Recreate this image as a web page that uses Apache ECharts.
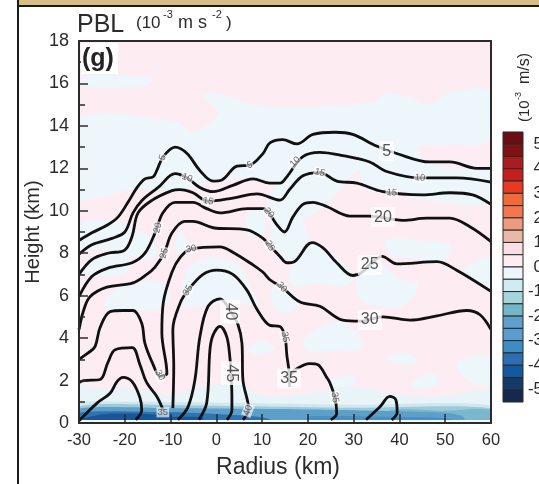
<!DOCTYPE html>
<html><head><meta charset="utf-8">
<style>html,body{margin:0;padding:0;background:#fff;overflow:hidden}#c{width:539px;height:484px;filter:blur(0.45px)}</style>
<script src="https://cdn.jsdelivr.net/npm/echarts@6/dist/echarts.min.js"></script>
</head><body><div id="c"></div>
<script>
// Contours: [radius km, height km]
const c5=[[-30,8.6],[-27.2,8.96],[-23.7,9.34],[-21.5,9.7],[-19.3,10.4],[-17.3,11.1],[-15.6,11.5],[-13.8,11.6],[-13,11.9],[-11.6,12.55],[-9,13],[-6.4,12.7],[-3.6,11.9],[-0.7,11.4],[1.2,11.45],[4.5,12.1],[7.3,12.15],[10.2,12.7],[11.7,13.2],[14.5,13.35],[17.6,13.15],[21.1,13.6],[25.9,13.7],[29.8,13.6],[35,13.05],[39.4,12.7],[46.6,12.3],[51,12.3],[56.9,12],[60,12]];
const c10=[[-30,7.95],[-27.2,8.4],[-22.8,8.7],[-20,9],[-18.2,9.9],[-16.2,10.5],[-12.7,11.1],[-9,11.75],[-6.4,11.55],[-3.6,11.1],[-0.7,10.9],[3.6,11.2],[8,11.5],[11.7,11.3],[13.9,11.3],[15.4,11.6],[18.9,12.55],[22.6,12.75],[27.6,12.6],[33.5,12.3],[37.2,11.85],[44.5,11.55],[52.5,11.55],[60,11.35]];
const c15=[[-30,7],[-27.2,7.7],[-23.7,8],[-20,8.15],[-18.4,8.8],[-17.1,9.9],[-14,10.5],[-9.7,10.95],[-8,11],[-5.1,10.85],[-1.8,10.45],[3.6,10.6],[8.9,10.8],[13.9,10.5],[16,11],[18.9,11.65],[22.6,11.8],[26.3,11.4],[30.7,11.3],[36.4,10.9],[45.1,10.75],[51,10.85],[56,10.75],[60,10.3]];
const c20=[[-30,5.95],[-27.2,6.9],[-23.7,7.3],[-18.4,7.55],[-15.6,8],[-13.4,8.95],[-11.7,9.9],[-9,10.4],[-5.1,10.4],[-2.1,10.1],[0.8,9.9],[6.7,10.1],[10.2,10.1],[11.5,9.9],[13.2,9.35],[14.9,9],[16.7,9.7],[18.9,10.3],[21.1,10.4],[24.1,10.2],[29.2,9.75],[33.5,9.75],[40.7,9.55],[46,9.65],[51,9.65],[55.4,9.25],[60,8.55]];
const c25=[[-30,4.4],[-29,5.3],[-27.6,5.95],[-23.9,6.4],[-18.2,6.6],[-15.2,7],[-13.4,7.35],[-11.4,8],[-9.7,8.95],[-6.9,9.5],[-5.1,9.5],[-0.7,9.2],[6.7,9.1],[10.2,8.7],[11.7,8.35],[13.9,7.85],[15.4,7.55],[17,7.6],[20.9,8.5],[23.3,8.25],[26.3,7.55],[29.8,6.95],[31.8,7.1],[33.5,7.45],[36.2,7.85],[39.4,7.5],[48.2,7.6],[52.5,7.2],[60,6.2]];
const c30=[[-30,3],[-28,3.3],[-26.5,3.6],[-25.4,4.5],[-23.2,5.25],[-20.4,5.3],[-18.2,5.3],[-16.3,4.7],[-15.6,3.75],[-13.8,2.75],[-12.3,2.2],[-10.8,2.35],[-11.9,4.25],[-11.6,5.65],[-9.7,7.1],[-7.9,7.8],[-5.5,8.2],[0.8,8.3],[3.6,8.05],[8,7.45],[10.2,7.1],[11.7,6.75],[14.3,6.4],[18.3,5.7],[22.6,5.5],[27.6,4.85],[31.4,4.8],[36.4,5],[42.3,4.85],[48.2,5.05],[54.7,5.3],[57.6,5.1],[60,4.4]];
const c35a=[[-30,1.9],[-29,2],[-25.4,2.05],[-23.7,2.85],[-22.1,3.45],[-18.4,3.55],[-16.7,2.75],[-15.2,1.9],[-13,1.25],[-11.6,0.6]];
const c35b=[[-9.5,0.7],[-9.3,2.65],[-9.5,4.4],[-7.9,5.65],[-6.2,6.25],[-2.9,7],[0.1,7.2],[3.6,7],[6.7,6.25],[8.9,5.35],[11.7,4.6],[13.9,4.55],[15,4.05],[15.4,3.2],[15.9,2.4],[16,1.7]];
const c35c=[[15.9,2.2],[17.2,2.5],[20.4,2.8],[22.2,2.75],[24.1,2.15],[24.8,1.9],[25.9,1.2],[26.3,0.45],[25,0.15]];
const c35d=[[-30,0.1],[-26,0.95],[-23.2,1.4],[-21.7,1.95],[-20.4,2.15],[-18.4,1.95],[-16.7,1.2],[-16.3,0.6],[-17.6,0.15]];
const c35e=[[32.7,0.15],[35.7,0.75],[37.9,1.25],[39.2,1.1],[39.5,0.5],[38.3,0.15]];
const c40=[[-8.4,0.15],[-6.2,0.75],[-4.7,2],[-3.6,4.05],[-1.8,5.5],[0.8,5.85],[3,5.3],[4.7,4.65],[5.6,3.75],[5.8,2.05],[6.9,0.95],[7,0.6],[5.8,0.15]];
const c45=[[-3.8,0.15],[-2.1,0.95],[-1.4,3.45],[-0.7,4.15],[0.8,4.55],[2.3,4.05],[3,3],[3.2,2.35],[3.4,1.25],[3.4,0.6],[2.3,0.15]];
const contourLines=[c5,c10,c15,c20,c25,c30,c35a,c35b,c35c,c35d,c35e,c40,c45];

// Contour labels: [radius, height, text]
const smallLabels=[[-11.7,12.5,'5'],[7.3,12.15,'5'],[-6.4,11.55,'10'],[17.2,12.3,'10'],[44.5,11.55,'10'],[-1.8,10.45,'15'],[22.6,11.8,'15'],[38.3,10.85,'15'],[-12.8,9.2,'20'],[11.5,9.9,'20'],[-11.4,8,'25'],[11.7,8.35,'25'],[-5.5,8.2,'30'],[14.3,6.4,'30'],[-12.3,2.25,'30'],[-6.2,6.25,'35'],[15,4.05,'35'],[25.9,1.2,'35'],[-11.7,0.5,'35'],[6.9,0.6,'40']];
const smallAngles=[70,20,-20,45,-5,-10,-15,-5,75,-50,75,-60,10,-50,-60,60,-80,-80,0,70];
const bigLabels=[[37.2,12.8,'5'],[36.4,9.7,'20'],[33.5,7.45,'25'],[33.5,4.85,'30'],[15.9,2.1,'35'],[3,5.25,'40'],[3.2,2.35,'45']];
const bigAngles=[0,0,0,0,0,-90,-90];

// Weakly negative (light blue) regions of the shaded field
const blueRegions=[
[[-29.5,16.3],[-20,16.4],[-14,16.2],[-16,15.9],[-23,15.8],[-29.5,15.9]],
[[-30,14.3],[-8.6,14.2],[-5.3,13.7],[0.4,14.6],[-2.9,15.4],[0.8,15.5],[11,14.9],[34.2,15.1],[37.2,15.5],[41.6,15.4],[46.6,15],[51,15.55],[60,15.6],[60,13.35],[50,13.1],[44,13],[46,12.3],[52,12],[60,11.95],[60,10.4],[46,10.5],[38,10.8],[33,11],[31,11.9],[28,11.2],[24,10.3],[19,9.6],[15,9],[12,9.4],[11,10.5],[13,11.2],[8,11.55],[0,11.4],[-8,11],[-18,11],[-24,10.7],[-30,10.6]],
[[-29.5,9.4],[-22,9.5],[-18,9.2],[-14,8.6],[-13,8],[-15,7.7],[-19,7.9],[-25,8.2],[-29.5,8.2]],
[[-29.5,7.1],[-27,7.8],[-20,7.9],[-19,7.2],[-24,6.9]],
[[-24.5,5.4],[-22,6.3],[-16,6.6],[-12,6.6],[-10,6],[-12,5.4],[-18,5.3]],
[[-7.5,5.6],[-6.5,7.2],[-3.5,7.7],[0,7.8],[5,7.4],[8,6.2],[9,5.6],[3,5.7],[0,5.6],[-4,5.5]],
[[-9.2,8.2],[-8,9],[-6.5,8.6],[-7.5,8]],
[[7,9.9],[10,10],[10.5,8.9],[7,8.8]],
[[12,9.8],[15,10],[18,9.8],[20,8.7],[17,7.5],[13,8.1]],
[[13,6.6],[17.6,6],[18,5.5],[14,5.2],[12,5.8]],
[[16,7],[20,8.4],[24,8.2],[30,6.9],[28,6.4],[22,6.6],[17,6.4]],
[[31,7.2],[36,7.4],[40,6.8],[44,6.5],[41,5.5],[36,5.5],[33,5.6],[31,6]],
[[37,8.6],[45,8.6],[51,8.4],[50,7.7],[42,7.8],[38,8]],
[[54,7.2],[60,7.8],[60,6.3],[56,6.8]],
[[19,3.9],[23,4.6],[28,4.7],[32,3.8],[31,3.4],[24,3.4],[20,3.4]],
[[36.8,3.1],[42,3.3],[44,2.9],[40,2.8]],
[[52.5,2.6],[54,3],[60,3.1],[60,1.8],[56,1.9]],
[[25,2],[30,2.2],[30,1.8],[26,1.6]],
[[43,2],[48,2.3],[48,1.8],[43,1.6]],
[[6.9,3.5],[10,3.9],[13,3.5],[11,3.3],[8,3.2]]
];
// Near-surface layers
const surfaceLight=[[-30,1.7],[-25,1.6],[-20,1.7],[-15,1.5],[-10,1.3],[-5,1.6],[0,1.8],[5,1.9],[10,1.3],[20,1.4],[30,1.7],[40,1.35],[50,1.3],[60,1.5],[60,0],[-30,0]];
const surface1=[[-30,0.9],[-20,1],[-10,0.98],[10,0.93],[30,0.86],[60,0.84],[60,0],[-30,0]];
const surface2=[[-30,0.78],[-10,0.84],[10,0.78],[30,0.72],[60,0.7],[60,0],[-30,0]];
const surface2b=[[38,0.6],[50,0.58],[60,0.62],[60,0.1],[38,0.1]];
const surface3=[[-30,0.68],[-10,0.7],[13,0.66],[30,0.6],[42,0.54],[50,0.48],[54,0.3],[54,0.1],[-30,0.1]];
const surface4=[[-30,0.5],[-12,0.52],[-2,0.45],[6,0.35],[11,0.22],[12,0.1],[-30,0.1]];
const surface4b=[[20,0.3],[35,0.3],[48,0.26],[52,0.12],[20,0.12]];
const surface5=[[-29,0.22],[-24,0.42],[-15,0.42],[-10,0.3],[-3,0.28],[-3,0.14],[-29,0.14]];
const surface6=[[-30,0.14],[60,0.14],[60,0],[-30,0]];
const surfaceLayers=[surfaceLight,surface1,surface2,surface2b,surface3,surface4,surface4b,surface5];
const surfaceColors=['#e9f4f9','#cfe7ef','#9cc9dc','#7ab7cc','#5d9fc9','#2f74b0','#4a8fc2','#1a5596'];

// Colour bar
const barEdges=[5.5,5,4.5,4,3.5,3,2.5,2,1.5,1,0.5,0,-0.5,-1,-1.5,-2,-2.5,-3,-3.5,-4,-4.5,-5,-5.5];
const barColors=['#6b0d12','#7f1214','#a81e1f','#c5201f','#e63a22','#f26a3c','#f3764f','#ee9a7e','#e9b9a8','#f8dfe3','#fdecf2','#edf6fb','#d0ecf3','#a3d6dc','#72b7c8','#5e9fcd','#5a9ccf','#3f8cc3','#2c70b2','#125aa0','#143a68','#15294f'];

const xTicks=[-30,60,10], yTicks=[0,18,2];
const ink='#2b2b2b', font='"Liberation Sans",Arial,sans-serif';
const chart=echarts.init(document.getElementById('c'),null,{renderer:'canvas'});

function poly(list,fills,smooth){
  return {type:'custom',coordinateSystem:'cartesian2d',xAxisIndex:0,yAxisIndex:0,clip:true,z:1,silent:true,
    data:list.map((_,i)=>[i]),
    renderItem(p,api){
      const pts=list[p.dataIndex].map(q=>api.coord(q));
      return {type:'polygon',shape:{points:pts,smooth:smooth},style:{fill:typeof fills==='string'?fills:fills[p.dataIndex]}};
    }};
}
const series=[poly(blueRegions,'#ecf6fb',0.35),poly(surfaceLayers,surfaceColors,0.3),poly([surface6],'#f6f9fb',0)];
contourLines.forEach(l=>series.push({type:'line',data:l,xAxisIndex:0,yAxisIndex:0,smooth:0.35,symbol:'none',silent:true,z:3,clip:true,
  lineStyle:{color:'#111',width:2.8}}));
series.push({type:'scatter',xAxisIndex:0,yAxisIndex:0,symbolSize:0,z:4,silent:true,
  data:smallLabels.map((d,i)=>({value:[d[0],d[1]],label:{show:true,position:'inside',formatter:d[2],rotate:smallAngles[i],fontSize:9.5,color:'#444',fontFamily:font,backgroundColor:'rgba(255,255,255,0.8)',padding:[0,1]}}))});
series.push({type:'scatter',xAxisIndex:0,yAxisIndex:0,symbolSize:0,z:4,silent:true,
  data:bigLabels.map((d,i)=>({value:[d[0],d[1]],label:{show:true,position:'inside',formatter:d[2],rotate:bigAngles[i],fontSize:16,color:ink,fontFamily:font,backgroundColor:'#fff',padding:[2,3]}}))});
series.push({type:'custom',coordinateSystem:'cartesian2d',xAxisIndex:2,yAxisIndex:2,silent:true,clip:false,z:2,
  data:barColors.map((_,i)=>[i]),
  renderItem(p,api){
    const i=p.dataIndex,a=api.coord([0,barEdges[i]]),b=api.coord([1,barEdges[i+1]]);
    return {type:'rect',shape:{x:a[0],y:a[1],width:b[0]-a[0],height:b[1]-a[1]},style:{fill:barColors[i],stroke:'#2a2a2a',lineWidth:1}};
  }});

const hiddenX={type:'value',gridIndex:1,min:0,max:1,show:false};
chart.setOption({
  animation:false,backgroundColor:'#fff',
  grid:[{left:79,right:48,top:41,bottom:61,show:true,backgroundColor:'#fdecf2',borderWidth:0,outerBoundsMode:'none'},
        {left:503,width:20,top:119.7,height:294.6,show:false,outerBoundsMode:'none'}],
  xAxis:[
    {type:'value',gridIndex:0,position:'bottom',min:xTicks[0],max:xTicks[1],interval:xTicks[2],z:6,
     name:'Radius (km)',nameLocation:'middle',nameMoveOverlap:false,nameGap:33,nameTextStyle:{fontSize:23,color:ink,fontFamily:font,padding:[0,14,0,0]},
     axisLine:{onZero:false,lineStyle:{color:ink,width:2}},axisTick:{inside:true,length:9,lineStyle:{color:ink,width:1.5}},
     axisLabel:{fontSize:16.5,color:ink,fontFamily:font,margin:9,showMinLabel:true,showMaxLabel:true},splitLine:{show:false}},
    {type:'value',gridIndex:0,position:'top',min:xTicks[0],max:xTicks[1],z:6,axisLine:{onZero:false,lineStyle:{color:ink,width:2}},axisTick:{show:false},axisLabel:{show:false},splitLine:{show:false}},
    hiddenX],
  yAxis:[
    {type:'value',gridIndex:0,position:'left',min:yTicks[0],max:yTicks[1],interval:yTicks[2],z:6,
     name:'Height (km)',nameLocation:'middle',nameMoveOverlap:false,nameGap:36,nameTextStyle:{fontSize:20,color:ink,fontFamily:font},
     axisLine:{onZero:false,lineStyle:{color:ink,width:2}},axisTick:{inside:true,length:9,lineStyle:{color:ink,width:1.5}},
     minorTick:{show:true,splitNumber:2,length:6,lineStyle:{color:ink,width:1.5}},
     axisLabel:{fontSize:18,color:ink,fontFamily:font,margin:10,padding:[6,0,0,0],showMinLabel:true,showMaxLabel:true},splitLine:{show:false}},
    {type:'value',gridIndex:0,position:'right',min:yTicks[0],max:yTicks[1],z:6,axisLine:{onZero:false,lineStyle:{color:ink,width:2}},axisTick:{show:false},axisLabel:{show:false},splitLine:{show:false}},
    {type:'value',gridIndex:1,position:'right',min:-6,max:6,interval:1,
     axisLine:{show:false},axisTick:{show:false},splitLine:{show:false},
     axisLabel:{fontSize:17,color:ink,fontFamily:font,align:'right',margin:20,showMinLabel:false,showMaxLabel:false,
       formatter:v=>(Math.abs(v)>5?'':String(v))}}],
  series,
  graphic:{elements:[
    {type:'rect',silent:true,z:0,shape:{x:18,y:0,width:521,height:5},style:{fill:'#d8bd85'}},
    {type:'rect',silent:true,z:1,shape:{x:18,y:5,width:521,height:2},style:{fill:'#1a1a1a'}},
    {type:'rect',silent:true,z:1,shape:{x:17,y:0,width:2,height:484},style:{fill:'#1a1a1a'}},
    {type:'rect',silent:true,z:20,shape:{x:81,y:43,width:37,height:31},style:{fill:'#fff'}},
    {type:'text',silent:true,z:21,x:82,y:59,style:{text:'(g)',font:'bold 25px '+font,fill:'#222',textVerticalAlign:'middle'}},
    {type:'text',silent:true,z:21,x:77,y:25,style:{text:'PBL',font:'25px '+font,fill:ink,textVerticalAlign:'middle'}},
    {type:'text',silent:true,z:21,x:136,y:23,style:{text:'(10',font:'17px '+font,fill:ink,textVerticalAlign:'middle'}},
    {type:'text',silent:true,z:21,x:163,y:15,style:{text:'-3',font:'11px '+font,fill:ink,textVerticalAlign:'middle'}},
    {type:'text',silent:true,z:21,x:178,y:23,style:{text:'m s',font:'18px '+font,fill:ink,textVerticalAlign:'middle'}},
    {type:'text',silent:true,z:21,x:212,y:15,style:{text:'-2',font:'11px '+font,fill:ink,textVerticalAlign:'middle'}},
    {type:'text',silent:true,z:21,x:226,y:23,style:{text:')',font:'17px '+font,fill:ink,textVerticalAlign:'middle'}},
    {type:'text',silent:true,z:21,x:525,y:122,rotation:Math.PI/2,style:{text:'(10',font:'15px '+font,fill:ink,textVerticalAlign:'middle'}},
    {type:'text',silent:true,z:21,x:519,y:100,rotation:Math.PI/2,style:{text:'-3',font:'9px '+font,fill:ink,textVerticalAlign:'middle'}},
    {type:'text',silent:true,z:21,x:525,y:84,rotation:Math.PI/2,style:{text:'m/s)',font:'16px '+font,fill:ink,textVerticalAlign:'middle'}}
  ]}
});
</script></body></html>
